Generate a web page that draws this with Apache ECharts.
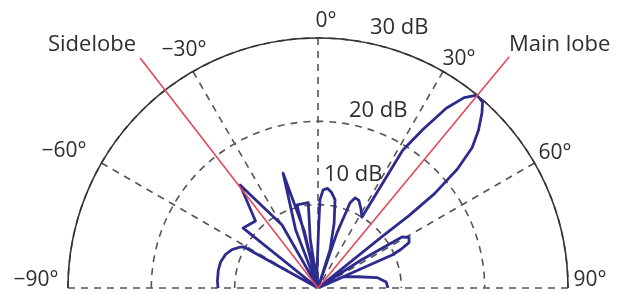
<!DOCTYPE html>
<html>
<head>
<meta charset="utf-8">
<script src="https://cdn.jsdelivr.net/npm/echarts@6/dist/echarts.min.js"></script>
<style>
  html, body { margin: 0; padding: 0; background: #fff; }
  #charts { width: 625px; height: 293px; }
</style>
</head>
<body>
<div id="charts"></div>
<script>
  // angle ticks (deg) and their labels
  const angleTicks = [-90, -60, -30, 0, 30, 60, 90]
  const angleLabels = ['−90°', '−60°', '−30°', '0°', '30°', '60°', '90°']
  const ringLabels = ['10 dB', '20 dB', '30 dB']

  // antenna pattern: angle (deg) / level (dB)
  const patternDeg = [
    -90, -86, -80, -75, -70, -66, -62.5, -61, -61,
    -51.3, -43, -37.1, -29.7, -29,
    -21, -16.9, -13.5, -13,
    -14.2, -6.5, -9, -8,
    -3, 0.5, 1.3, 3, 5.5, 8, 10.9, 14, 17.5, 18,
    19, 20.6, 22.4, 25, 28.5, 31.8,
    31.6, 33.5, 35.5, 37.5, 39.5, 41.5, 43.1, 45.5, 47.7, 49.5, 51, 51.5, 51.2, 50,
    57, 58.7, 61, 63.5, 65, 66, 66, 66,
    66.2, 74, 80, 85, 90
  ]
  const patternDb = [
    12.0, 12.1, 12.15, 12.1, 11.8, 11.3, 10.6, 10.2, 0,
    11.5, 11.0, 15.5, 8.7, 0,
    7.5, 14.4, 7, 0,
    10.3, 10.3, 6, 0,
    2.2, 7, 10.6, 11.8, 12, 11.6, 10.8, 8, 4.8, 0,
    7, 10.9, 11.7, 11.6, 10.8, 10,
    19.4, 22.8, 26.5, 28.8, 30, 29.8, 28.8, 27, 25, 22, 18, 14, 10, 0,
    6, 11.8, 12.5, 12.2, 11, 9.8, 5, 0,
    3.3, 4.9, 7.2, 8.2, 8.4
  ]

  // red marker lines (they run past the 30 dB rim)
  const markerNames = ['Sidelobe', 'Main lobe']
  const markerDeg = [-37.7, 39.6]
  const markerReach = [34.9, 36]

  function loadCharts () {
    const el = document.getElementById('charts')
    const charts = echarts.init(el, null, { renderer: 'canvas' })
    const fam = '"Open Sans", "Noto Sans", sans-serif'
    const font = '22px ' + fam
    const tickFont = '21px ' + fam
    const txtColor = '#2e2e2e'
    const dash = { color: '#555', type: [7, 6], width: 1.6 }

    // where the angle tick labels sit (px)
    const anglePos = [[36, 280], [64, 151], [184, 50], [326, 21], [459, 59], [555, 153], [590, 280]]

    const txt = (text, x, y, f, align) => ({
      type: 'text',
      x: x,
      y: y,
      style: { text: text, font: f, fill: txtColor, align: align || 'left', verticalAlign: 'middle' }
    })

    const graphic = [
      txt(markerNames[0], 48, 45, font),
      txt(markerNames[1], 509, 45, font),
      txt(ringLabels[0], 324, 175, font),
      txt(ringLabels[1], 349, 111, font),
      txt(ringLabels[2], 370, 28, font)
    ].concat(angleLabels.map((t, i) => txt(t, anglePos[i][0], anglePos[i][1], tickFont, 'center')))

    const option = {
      animation: false,
      polar: [
        { center: [318, 288], radius: 250 },
        { center: [318, 288], radius: 300 }
      ],
      angleAxis: [
        {
          polarIndex: 0,
          type: 'value',
          min: -90,
          max: 90,
          interval: 30,
          startAngle: 180,
          endAngle: 0,
          clockwise: true,
          axisLine: { lineStyle: { color: '#333', width: 1.6 } },
          axisTick: { show: false },
          axisLabel: { show: false },
          splitLine: { lineStyle: dash }
        },
        {
          polarIndex: 1,
          type: 'value',
          min: -90,
          max: 90,
          startAngle: 180,
          endAngle: 0,
          clockwise: true,
          axisLine: { show: false },
          axisTick: { show: false },
          axisLabel: { show: false },
          splitLine: { show: false }
        }
      ],
      radiusAxis: [
        {
          polarIndex: 0,
          min: 0,
          max: 30,
          interval: 10,
          axisLine: { show: false },
          axisTick: { show: false },
          axisLabel: { show: false },
          splitLine: { lineStyle: dash }
        },
        {
          polarIndex: 1,
          min: 0,
          max: 36,
          axisLine: { show: false },
          axisTick: { show: false },
          axisLabel: { show: false },
          splitLine: { show: false }
        }
      ],
      graphic: graphic,
      series: [
        {
          type: 'line',
          coordinateSystem: 'polar',
          polarIndex: 1,
          showSymbol: false,
          data: [[markerReach[0], markerDeg[0]], [0, 0], [markerReach[1], markerDeg[1]]],
          lineStyle: { color: '#e8475a', width: 1.6 },
          z: 3
        },
        {
          type: 'line',
          coordinateSystem: 'polar',
          polarIndex: 0,
          showSymbol: false,
          clip: false,
          data: patternDeg.map((d, i) => [patternDb[i], d]),
          lineStyle: { color: '#2d2c8e', width: 2.8, join: 'round' },
          z: 2
        }
      ]
    }
    charts.setOption(option, true)
  }

  loadCharts()
</script>
</body>
</html>
